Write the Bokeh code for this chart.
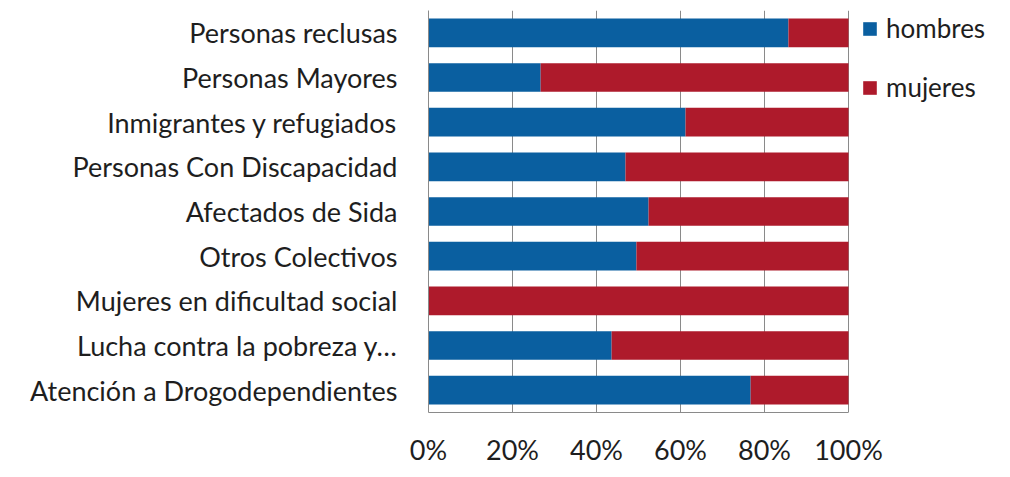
from bokeh.plotting import figure
from bokeh.models import ColumnDataSource, FactorRange, Range1d, NumeralTickFormatter, FixedTicker, Legend
from bokeh.embed import file_html
from bokeh.resources import INLINE

categories = [
    "Personas reclusas",
    "Personas Mayores",
    "Inmigrantes y refugiados",
    "Personas Con Discapacidad",
    "Afectados de Sida",
    "Otros Colectivos",
    "Mujeres en dificultad social",
    "Lucha contra la pobreza y…",
    "Atención a Drogodependientes",
]
hombres = [0.857, 0.267, 0.612, 0.469, 0.524, 0.495, 0.0, 0.436, 0.767]
mujeres = [1 - h for h in hombres]
tick_values = [0, 0.2, 0.4, 0.6, 0.8, 1.0]

BLUE = "#0A5FA0"
RED = "#AE1A2B"
FONT = "Lato"
TXT = "#1e1e1e"
FS = "27px"

LEFT = 428
PLOT_W = 420      # pixel width of the 0..100% area
EXTRA_W = 146     # room on the right (inside the frame) for the legend
FRAME_H = 402
TOP = 10
BOTTOM = 461 - TOP - FRAME_H
LEG_H = 30 + 27 + 30

source = ColumnDataSource(dict(cat=categories, hombres=hombres, mujeres=mujeres))

p = figure(
    frame_width=PLOT_W + EXTRA_W, frame_height=FRAME_H,
    y_range=FactorRange(*list(reversed(categories)), range_padding=0),
    x_range=Range1d(0, (PLOT_W + EXTRA_W) / PLOT_W),
    output_backend="svg", toolbar_location=None,
    min_border_left=LEFT, min_border_right=0, min_border_top=TOP, min_border_bottom=BOTTOM,
)
p.outline_line_color = None

renderers = p.hbar_stack(["hombres", "mujeres"], y="cat", height=0.64, source=source,
                         color=[BLUE, RED], line_color=None)

legend = Legend(items=[("hombres", [renderers[0]]), ("mujeres", [renderers[1]])],
                location=(PLOT_W + 13, FRAME_H - 6 - LEG_H), orientation="vertical")
legend.border_line_color = None
legend.background_fill_alpha = 0
legend.margin = 0
legend.padding = 0
legend.spacing = 27
legend.glyph_width = 17
legend.glyph_height = 17
legend.label_height = 30
legend.label_standoff = 8
legend.label_text_font = FONT
legend.label_text_font_size = "26px"
legend.label_text_color = TXT
p.add_layout(legend, "center")

p.xaxis.ticker = FixedTicker(ticks=tick_values)
p.xaxis.bounds = (0, 1)
p.xaxis.formatter = NumeralTickFormatter(format="0%")
p.xaxis.major_label_text_font = FONT
p.xaxis.major_label_text_font_size = FS
p.xaxis.major_label_text_color = TXT
p.xaxis.major_label_standoff = 14
p.xaxis.major_tick_line_color = None
p.xaxis.minor_tick_line_color = None
p.xaxis.axis_line_color = "#8a8a8a"

p.yaxis.major_label_text_font = FONT
p.yaxis.major_label_text_font_size = FS
p.yaxis.major_label_text_color = TXT
p.yaxis.major_label_standoff = 25
p.yaxis.major_tick_line_color = None
p.yaxis.minor_tick_line_color = None
p.yaxis.axis_line_color = "#8a8a8a"

p.ygrid.grid_line_color = None
p.xgrid.grid_line_color = "#8a8a8a"
p.xgrid.ticker = FixedTicker(ticks=tick_values)

open("out.html", "w").write(file_html(p, INLINE))
